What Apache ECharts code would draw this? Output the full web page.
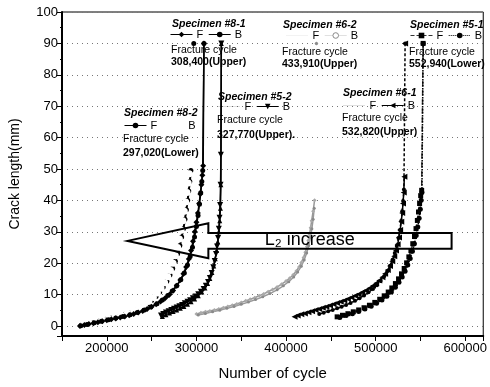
<!DOCTYPE html>
<html>
<head>
<meta charset="utf-8">
<script src="https://cdn.jsdelivr.net/npm/echarts@6/dist/echarts.min.js"></script>
<style>
  html, body { margin: 0; padding: 0; background: #fff; }
  #chart { width: 490px; height: 387px; }
</style>
</head>
<body>
<div id="chart"></div>
<script>
// Crack length (mm) against number of cycles, front (F) and back (B) faces per specimen
// ('-' marks a break in the line before the fracture point)
const s82F = [[168000,0.1],[172000,0.3],[176000,0.5],[180000,0.8],[184000,1.0],[188000,1.3],[192000,1.6],[196000,1.9],[200000,2.2],[205000,2.5],[210000,2.9],[215000,3.3],[220000,3.7],[225000,4.2],[230000,4.8],[235000,5.4],[240000,6.1],[245000,7.0],[250000,8.1],[255000,9.4],[259000,10.8],[263000,12.4],[267000,14.2],[270500,16.2],[273500,18.3],[276500,20.6],[279000,23],[281500,25.6],[283500,28.3],[285500,31],[287200,34],[288800,37],[290200,40],[291400,43],[292600,46],[293800,49.5],[295500,'-'],[297020,90]];
const s82B = [[167000,0],[174000,0.4],[181000,0.9],[188000,1.4],[195000,1.9],[202000,2.4],[209000,2.9],[216000,3.5],[223000,4.1],[230000,4.9],[236000,5.7],[242000,6.7],[247000,7.8],[252000,9.1],[256500,10.5],[260500,12],[264500,13.8],[268000,15.7],[271000,17.7],[274000,20],[276500,22.4],[279000,25],[281000,27.7],[283000,30.5],[284800,33.5],[286500,36.5],[288000,39.5],[289500,42.5],[290800,45.5],[292000,48.5]];
const s81F = [[170000,0],[175000,0.3],[180000,0.6],[185000,0.9],[190000,1.2],[195000,1.5],[200000,1.8],[205000,2.1],[210000,2.4],[215000,2.7],[220000,3.0],[225000,3.4],[230000,3.8],[235000,4.3],[240000,4.8],[245000,5.4],[250000,6.1],[255000,6.9],[260000,7.8],[265000,8.8],[270000,10],[274000,11.3],[278000,12.8],[282000,14.6],[285500,16.6],[288500,18.8],[291500,21.3],[294000,24],[296200,27],[298200,30],[300000,33],[301600,36],[303000,39],[304300,42],[305500,45],[306600,48],[307500,51],[308400,90]];
const s81B = [[171000,0.1],[178000,0.5],[186000,1.0],[194000,1.5],[202000,2.0],[210000,2.5],[218000,3.0],[226000,3.6],[234000,4.3],[242000,5.1],[249000,6.0],[256000,7.1],[262000,8.3],[268000,9.7],[273000,11.1],[278000,12.8],[282500,14.7],[286500,16.9],[290000,19.4],[293000,22.1],[295600,25.1],[297900,28.3],[300000,31.7],[301800,35.2],[303400,38.8],[304800,42.4],[306000,46],[307000,49.5],[308400,90]];
const s52F = [[262000,3.0],[266000,3.6],[270000,4.1],[274000,4.6],[278000,5.1],[282000,5.6],[286000,6.2],[290000,6.9],[294000,7.7],[298000,8.6],[302000,9.6],[306000,10.8],[309500,12.1],[312500,13.5],[315000,15.1],[317300,17],[319300,19.1],[321000,21.4],[322500,24],[323800,26.8],[325000,30],[326000,33.5],[326800,37.5],[327300,45],[327770,90]];
const s52B = [[260500,3.3],[263000,3.8],[266000,4.3],[269000,4.7],[272000,5.1],[275000,5.5],[278000,5.9],[281000,6.3],[284000,6.7],[287000,7.2],[290000,7.7],[293000,8.2],[296000,8.8],[299000,9.4],[302000,10.1],[305000,10.9],[308000,11.8],[310500,12.8],[313000,14],[315000,15.3],[317000,16.9],[318800,18.7],[320400,20.7],[321800,22.9],[323000,25.3],[324100,28],[325000,31],[325800,34.5],[326400,38.5],[326900,45],[327300,54.5],[327770,90]];
const s62F = [[300000,3.8],[305000,4.2],[310000,4.5],[315000,4.8],[320000,5.1],[325000,5.4],[330000,5.8],[335000,6.2],[340000,6.6],[345000,7.0],[350000,7.5],[355000,8.0],[360000,8.5],[365000,9.0],[370000,9.6],[375000,10.2],[380000,10.9],[385000,11.6],[390000,12.4],[395000,13.3],[400000,14.3],[404000,15.2],[408000,16.3],[411500,17.5],[414500,18.8],[417000,20.2],[419500,21.8],[421500,23.5],[423300,25.3],[424800,27.2],[426200,29.2],[427400,31.3],[428500,33.5],[430200,36.5],[431800,40],[432800,'-'],[433910,90]];
const s62B = [[302000,3.5],[310000,4.0],[318000,4.5],[326000,5.0],[334000,5.6],[342000,6.2],[350000,6.9],[358000,7.6],[366000,8.4],[374000,9.3],[382000,10.3],[390000,11.5],[397000,12.8],[403000,14.1],[408500,15.6],[413000,17.2],[417000,19],[420200,21],[423000,23.2],[425300,25.6],[427200,28.2],[428800,31],[430200,34],[431400,37.5],[432800,'-'],[433910,90]];
const s61F = [[437000,3.8],[442000,4.2],[447000,4.7],[452000,5.1],[457000,5.6],[462000,6.1],[467000,6.7],[472000,7.3],[477000,8.0],[482000,8.8],[487000,9.7],[492000,10.7],[497000,11.8],[501500,13],[505500,14.3],[509500,15.8],[513000,17.4],[516000,19.2],[518800,21.1],[521300,23.2],[523500,25.5],[525400,28],[527000,30.6],[528400,33.4],[529600,36.5],[530600,39.8],[531500,43.5],[532820,90]];
const s61B = [[409500,2.9],[413000,3.3],[417000,3.7],[421000,4.0],[425000,4.4],[429000,4.7],[433000,5.1],[437000,5.4],[441000,5.8],[445000,6.1],[449000,6.5],[453000,6.9],[457000,7.3],[461000,7.7],[465000,8.1],[469000,8.6],[473000,9.1],[477000,9.6],[481000,10.1],[485000,10.7],[489000,11.3],[493000,12],[497000,12.8],[500500,13.6],[504000,14.5],[507500,15.5],[510500,16.6],[513500,17.8],[516000,19.1],[518500,20.6],[520700,22.2],[522700,24],[524500,26],[526000,28.2],[527300,30.6],[528500,33.2],[529600,36],[530500,39],[531300,42.5],[532000,47.5],[532400,'-'],[532820,90]];
const s51F = [[457000,2.9],[463000,3.4],[469000,3.9],[475000,4.5],[481000,5.1],[487000,5.8],[493000,6.6],[499000,7.5],[504500,8.5],[509500,9.6],[514000,10.8],[518000,12.1],[522000,13.5],[525500,15],[528800,16.6],[531800,18.3],[534500,20.1],[537000,22],[539300,24],[541400,26.2],[543300,28.5],[545000,31],[546500,33.6],[547800,36.3],[549000,39],[550200,41.5],[551300,43.2],[552940,90]];
const s51B = [[460000,2.7],[467000,3.3],[474000,3.9],[481000,4.6],[488000,5.4],[495000,6.3],[501000,7.2],[507000,8.3],[512500,9.5],[517500,10.8],[522000,12.3],[526000,13.9],[529600,15.6],[532800,17.4],[535800,19.4],[538500,21.5],[541000,23.8],[543200,26.2],[545200,28.8],[547000,31.5],[548500,34.3],[549800,37.2],[550800,40],[551600,42.5],[552940,90]];

// Annotation text for each specimen
const specimens = ['Specimen #8-1', 'Specimen #8-2', 'Specimen #5-2', 'Specimen #6-2', 'Specimen #5-1', 'Specimen #6-1'];
const fractureCycles = ['308,400(Upper)', '297,020(Lower)', '327,770(Upper).', '433,910(Upper)', '552,940(Lower)', '532,820(Upper)'];
const arrowLabel = 'L\u2082 increase';

const FONT = '"Liberation Sans", Arial, sans-serif';
const chart = echarts.init(document.getElementById('chart'), null, { renderer: 'canvas' });

function ser(name, data, symbol, opts) {
  return Object.assign({
    type: 'line', name: name, data: data, symbol: symbol, symbolSize: 5,
    showSymbol: true, animation: false, z: 3, connectNulls: false,
    lineStyle: { width: 1.5, color: '#000' },
    itemStyle: { color: '#000' }
  }, opts || {});
}
const GRAY = '#999999';
const series = [
  ser('#8-2 F', s82F, 'circle', { lineStyle: { width: 2, color: '#000' } }),
  ser('#8-2 B', s82B, 'emptyCircle', { lineStyle: { width: 0, color: '#000' }, itemStyle: { color: '#fff', borderColor: '#000', borderWidth: 1 } }),
  ser('#8-1 F', s81F, 'diamond', { symbolSize: 6 }),
  ser('#8-1 B', s81B, 'circle'),
  ser('#5-2 F', s52F, 'triangle', { lineStyle: { width: 1.5, color: '#000' } }),
  ser('#5-2 B', s52B, 'triangle', { symbolRotate: 180, symbolSize: 6 }),
  ser('#6-2 F', s62F, 'diamond', { symbolSize: 4, lineStyle: { width: 1.5, color: GRAY }, itemStyle: { color: '#aaaaaa' } }),
  ser('#6-2 B', s62B, 'circle', { symbolSize: 3, lineStyle: { width: 1.5, color: GRAY }, itemStyle: { color: '#8a8a8a' } }),
  ser('#5-1 F', s51F, 'rect', { lineStyle: { width: 1.5, color: '#333', type: 'dashed' } }),
  ser('#5-1 B', s51B, 'circle', { lineStyle: { width: 1.5, color: '#000', type: 'dotted' } }),
  ser('#6-1 F', s61F, 'circle', { symbolSize: 4, lineStyle: { width: 1.5, color: '#000', type: [3, 2] } }),
  ser('#6-1 B', s61B, 'triangle', { symbolRotate: 90, symbolSize: 6 })
];

function legend(left, top, f, b) {
  return {
    left: left, top: top, padding: 0, itemGap: 5, itemWidth: 22, itemHeight: 7,
    selectedMode: false, orient: 'horizontal',
    textStyle: { fontSize: 11, color: '#000', fontFamily: FONT, padding: [0, 0, 0, -1] },
    formatter: function (n) { return n.slice(-1); },
    data: [f, b]
  };
}
const faint = { lineStyle: { opacity: 0.25, type: 'dotted', width: 1 }, itemStyle: { opacity: 0 } };
const thin = { lineStyle: { width: 1 } };
const legends = [
  legend(170, 29, Object.assign({ name: '#8-1 F' }, thin), Object.assign({ name: '#8-1 B' }, thin)),
  legend(124, 120, Object.assign({ name: '#8-2 F' }, thin), { name: '#8-2 B', lineStyle: { opacity: 0 }, itemStyle: { opacity: 0 } }),
  legend(218, 101, Object.assign({ name: '#5-2 F' }, faint), Object.assign({ name: '#5-2 B' }, thin)),
  legend(286, 30, Object.assign({ name: '#6-2 F' }, faint), { name: '#6-2 B', symbol: 'emptyDiamond', lineStyle: { opacity: 0.3, width: 1 }, itemStyle: { color: '#fff', borderColor: '#888', borderWidth: 1 } }),
  legend(410, 30, Object.assign({ name: '#5-1 F' }, thin), Object.assign({ name: '#5-1 B' }, thin)),
  legend(343, 100, Object.assign({ name: '#6-1 F' }, faint), Object.assign({ name: '#6-1 B' }, thin))
];

// Positions of the annotation blocks [left, title y, first text y, second text y]
const blocks = [
  [172, 24, 50, 62],
  [124, 113, 139, 153],
  [218, 97, 120, 135],
  [283, 25, 52, 64],
  [410, 25, 52, 64],
  [343, 93, 118, 132]
];
const texts = [];
blocks.forEach(function (b, i) {
  texts.push({ type: 'text', x: b[0], y: b[1], z: 10, style: { text: specimens[i], fill: '#000', font: 'italic bold 10.5px ' + FONT, verticalAlign: 'middle' } });
  texts.push({ type: 'text', x: b[0] - 1, y: b[2], z: 10, style: { text: 'Fracture cycle', fill: '#000', font: '10.5px ' + FONT, verticalAlign: 'middle' } });
  texts.push({ type: 'text', x: b[0] - 1, y: b[3], z: 10, style: { text: fractureCycles[i], fill: '#000', font: 'bold 10.5px ' + FONT, verticalAlign: 'middle' } });
});

chart.setOption({
  animation: false,
  backgroundColor: '#fff',
  textStyle: { fontFamily: FONT },
  grid: { left: 62, right: 2, top: 12, bottom: 51, show: true, borderColor: '#000', borderWidth: 1 },
  xAxis: {
    type: 'value', min: 150000, max: 620000, splitNumber: 9, minInterval: 50000, maxInterval: 50000,
    name: 'Number of cycle', nameLocation: 'middle', nameGap: 30,
    nameTextStyle: { fontSize: 15, color: '#000', fontFamily: FONT },
    axisLine: { show: true, onZero: false, lineStyle: { color: '#000', width: 2 } },
    axisTick: { show: true, inside: false, length: 5, lineStyle: { color: '#000', width: 1 } },
    axisLabel: { fontSize: 13, color: '#000', margin: 6, fontFamily: FONT,
      formatter: function (v) { return v % 100000 === 0 ? String(v) : ''; } },
    splitLine: { show: false }
  },
  yAxis: {
    type: 'value', min: -3.2, max: 100, splitNumber: 10, minInterval: 10, maxInterval: 10,
    name: 'Crack length(mm)', nameLocation: 'middle', nameGap: 40,
    nameTextStyle: { fontSize: 14, color: '#000', fontFamily: FONT },
    axisLine: { show: true, onZero: false, lineStyle: { color: '#000', width: 2 } },
    axisTick: { show: true, inside: false, length: 5, lineStyle: { color: '#000', width: 1 } },
    minorTick: { show: true, splitNumber: 2, length: 2, lineStyle: { color: '#000' } },
    axisLabel: { fontSize: 13, color: '#000', margin: 4, fontFamily: FONT,
      formatter: function (v) { return v >= 0 ? String(v) : ''; } },
    splitLine: { show: true, lineStyle: { color: '#777', width: 1, type: [1, 4] } }
  },
  legend: legends,
  series: series,
  graphic: texts
});

// Large outlined arrow placed in data coordinates
const P = function (x, y) { return chart.convertToPixel({ gridIndex: 0 }, [x, y]); };
const arrowPts = [
  P(223150, 27.1), P(313300, 32.7), P(313300, 29.6), P(584700, 29.6),
  P(584700, 24.6), P(313300, 24.6), P(313300, 21.6)
];
const labelPos = P(376200, 27.3);
chart.setOption({
  graphic: texts.concat([
    { type: 'polygon', z: 20, shape: { points: arrowPts },
      style: { fill: 'none', stroke: '#000', lineWidth: 2 } },
    { type: 'text', z: 21, x: labelPos[0], y: labelPos[1],
      style: { text: arrowLabel, fill: '#000', font: '18px ' + FONT, verticalAlign: 'middle' } }
  ])
});
</script>
</body>
</html>
